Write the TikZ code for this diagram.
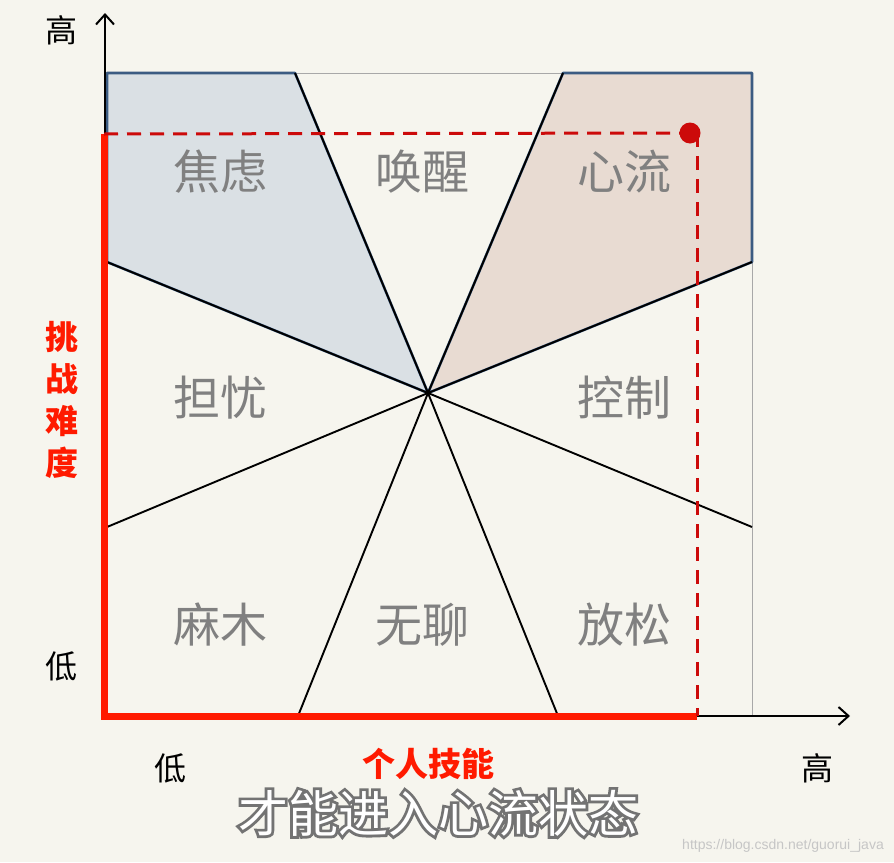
\documentclass[tikz,border=0pt]{standalone}
\usepackage{fontspec}
\newfontfamily\cjk{Noto Sans CJK SC}
\usetikzlibrary{arrows.meta,calc}
\definecolor{bg}{HTML}{F6F5EE}
\definecolor{bluefill}{HTML}{DAE0E4}
\definecolor{brownfill}{HTML}{E8DBD2}
\definecolor{edgeblue}{HTML}{3B5B82}
\definecolor{lblgray}{HTML}{808080}
\definecolor{redsolid}{HTML}{FF1A00}
\definecolor{reddash}{HTML}{CC0A0A}
\definecolor{gridgray}{HTML}{A8A8A8}
\newcommand{\subtxt}{才能进入心流状态}
\tikzset{
  region/.style={font=\cjk\fontsize{47}{47}\selectfont, text=lblgray, inner sep=0pt},
  axlbl/.style={font=\cjk\fontsize{32}{32}\selectfont, text=black, inner sep=0pt},
  redlbl/.style={font=\cjk\bfseries\fontsize{33}{33}\selectfont, text=redsolid, inner sep=0pt},
  sector/.style={line width=1.9pt, black},
  gridline/.style={line width=0.8pt, gridgray},
  axisline/.style={line width=2pt, black, -{Straight Barb[length=10pt,width=18pt,line width=2pt]}},
  reddashed/.style={reddash, line width=3pt, dash pattern=on 14pt off 9pt},
}
\begin{document}
\begin{tikzpicture}[x=1pt,y=-1pt]
\fill[bg] (0,0) rectangle (894,862);
\useasboundingbox (0,0) rectangle (894,862);
% key points
\coordinate (c) at (428,393);
\coordinate (o) at (105,716);
\coordinate (tl) at (107,73);
\coordinate (tr) at (752,73);
\coordinate (br) at (752,716);
\coordinate (lu) at (107,262);
\coordinate (ll) at (107,527);
\coordinate (ru) at (752,262);
\coordinate (rl) at (752,527);
\coordinate (bl) at (298,716);
\coordinate (bm) at (558,716);
\coordinate (tla) at (295,73);
\coordinate (tra) at (563,73);
% grid
\draw[gridline] (tl) -- (tr) -- (br);
% shaded regions
\filldraw[fill=bluefill, draw=edgeblue, line width=2.6pt, line join=round] (tl) -- (tla) -- (c) -- (lu) -- cycle;
\filldraw[fill=brownfill, draw=edgeblue, line width=2.6pt, line join=round] (tra) -- (tr) -- (ru) -- (c) -- cycle;
% sector lines
\draw[sector] (tla) -- (c);
\draw[sector] (tra) -- (c);
\draw[sector] (lu) -- (c);
\draw[sector] (ru) -- (c);
\draw[sector] (ll) -- (c);
\draw[sector] (rl) -- (c);
\draw[sector] (bl) -- (c);
\draw[sector] (bm) -- (c);
% axes
\coordinate (ytip) at (105,13);
\coordinate (xtip) at (850,716);
\draw[axisline] (o) -- (ytip);
\draw[axisline] (o) -- (xtip);
% red path
\coordinate (rtop) at (104,134);
\coordinate (rcorner) at (104,716);
\coordinate (rend) at (697,716);
\coordinate (dot) at (690,133);
\coordinate (dcorner) at (697,133);
\draw[redsolid, line width=7pt, line join=miter] (rtop) -- (rcorner) -- (rend);
\draw[reddashed] (rtop) -- (dot);
\draw[reddashed] (dcorner) -- (rend);
\fill[reddash] (dot) circle (10.5pt);
% region labels
\node[region] (n1) at (220,172) {焦虑};
\node[region] (n2) at (422,172) {唤醒};
\node[region] (n3) at (624,172) {心流};
\node[region] (n4) at (220,398) {担忧};
\node[region] (n5) at (624,398) {控制};
\node[region] (n6) at (220,625) {麻木};
\node[region] (n7) at (422,625) {无聊};
\node[region] (n8) at (624,625) {放松};
% axis labels
\node[axlbl] (yhi) at (61,30) {高};
\node[axlbl] (ylo) at (61,666) {低};
\node[axlbl] (xlo) at (170,768) {低};
\node[axlbl] (xhi) at (817,768) {高};
\node[redlbl] (xname) at (428,764) {个人技能};
\node[redlbl, align=center, font=\cjk\bfseries\fontsize{33}{42}\selectfont] (yname) at (62,400) {挑\\战\\难\\度};
% subtitle: gray stroked copy underneath, white fill on top
\node[font=\cjk\fontsize{50}{50}\selectfont, text=white, inner sep=0pt] (sub) at (438,813)
  {\rlap{\special{pdf:code 1 Tr 5.5 w 0.45 0.45 0.45 RG}\subtxt\special{pdf:code 0 Tr}}\subtxt};
% watermark
\node[font=\fontspec{Liberation Sans}\fontsize{14}{14}\selectfont, text=gray!45, anchor=east, inner sep=0pt] (wm) at (884,846) {https://blog.csdn.net/guorui\_java};
\end{tikzpicture}
\end{document}
